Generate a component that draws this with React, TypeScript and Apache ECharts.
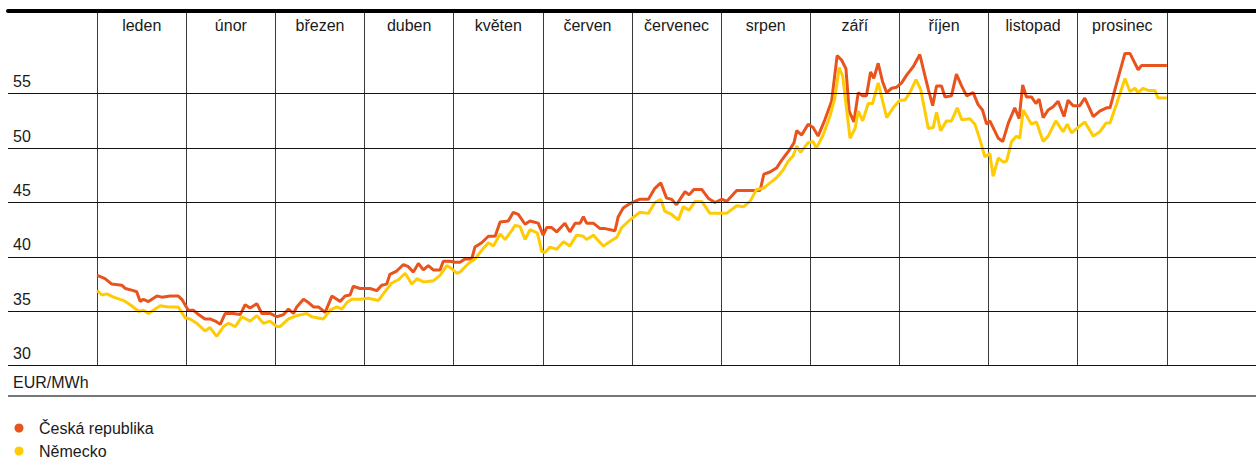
import React, { useEffect, useRef } from "react";
import * as echarts from "echarts";

const FONT = "'Liberation Sans', Arial, Helvetica, sans-serif";
const DAYS_PER_MONTH = 365 / 12;

const monthSlots = ["", "leden", "únor", "březen", "duben", "květen", "červen", "červenec", "srpen", "září", "říjen", "listopad", "prosinec", ""];
const yTicks = [30, 35, 40, 45, 50, 55];
const unitLabel = "EUR/MWh";
const seriesNames = ["Česká republika", "Německo"];

const czDays = [
  0, 2.7, 5.0, 8.4, 9.6, 12.4, 13.5, 14.7, 15.8, 17.5,
  20.4, 22.1, 24.9, 27.7, 28.9, 31.1, 32.8, 34.6, 36.8, 38.5,
  40.3, 42.0, 43.7, 46.5, 48.8, 50.5, 52.2, 54.5, 56.2, 59.0,
  61.3, 63.6, 65.3, 67.0, 68.1, 70.4, 72.1, 73.8, 75.5, 77.8,
  80.1, 81.8, 82.9, 84.6, 86.3, 87.4, 89.7, 93.1, 95.4, 97.1,
  98.8, 99.9, 102.2, 104.5, 106.2, 107.9, 109.6, 111.3, 113.0, 114.7,
  117.0, 118.1, 120.4, 122.1, 123.8, 125.5, 127.8, 128.9, 131.2, 133.5,
  135.8, 137.5, 140.3, 142.0, 143.7, 146.0, 147.7, 150.5, 152.2, 153.4,
  155.1, 156.8, 159.6, 161.3, 163.1, 164.8, 165.9, 167.0, 169.3, 171.6,
  173.3, 176.7, 177.8, 179.5, 181.8, 185.2, 188.1, 190.3, 192.3, 194.3,
  196.0, 197.7, 200.6, 202.0, 203.6, 206.3, 208.5, 210.8, 213.1, 214.8,
  218.2, 221.0, 226.2, 227.5, 229.6, 231.9, 233.6, 235.3, 236.4, 237.8,
  238.7, 240.4, 242.6, 244.3, 246.0, 248.3, 250.6, 252.5, 254.0, 255.5,
  256.6, 258.2, 259.7, 261.2, 262.5, 263.9, 265.0, 266.5, 268.0, 269.4,
  271.1, 272.8, 274.5, 276.2, 278.5, 280.7, 282.4, 283.6, 285.1, 286.4,
  288.1, 289.3, 291.5, 293.2, 295.0, 296.7, 298.9, 300.6, 302.1, 303.5,
  304.6, 307.5, 309.0, 310.9, 313.1, 314.6, 315.8, 317.1, 318.8, 320.3,
  321.4, 322.8, 324.5, 326.2, 327.9, 329.9, 331.3, 333.0, 335.3, 337.0,
  339.9, 342.1, 344.4, 345.6, 347.9, 350.7, 352.4, 355.2, 356.4, 360.3,
  365.0,
];
const czValues = [
  38.3, 38.0, 37.5, 37.4, 37.1, 36.9, 36.8, 35.9, 36.1, 35.9,
  36.4, 36.3, 36.4, 36.4, 36.1, 35.1, 35.1, 34.7, 34.3, 34.3,
  34.1, 33.8, 34.8, 34.8, 34.7, 35.6, 35.3, 35.7, 34.8, 34.8,
  34.5, 34.7, 35.2, 34.8, 35.4, 36.1, 35.8, 35.4, 35.4, 34.9,
  36.4, 36.1, 35.9, 36.4, 36.5, 37.3, 37.1, 37.1, 36.9, 37.4,
  37.5, 38.4, 38.7, 39.3, 39.1, 38.6, 39.4, 38.8, 39.2, 38.8,
  38.8, 39.6, 39.6, 39.5, 39.5, 39.8, 39.8, 40.9, 41.3, 41.9,
  41.9, 43.2, 43.3, 44.1, 43.9, 43.0, 43.3, 43.1, 42.0, 42.7,
  42.7, 42.3, 43.1, 42.3, 43.1, 43.1, 43.7, 43.1, 43.1, 42.6,
  42.6, 42.4, 43.7, 44.5, 44.9, 45.3, 45.3, 46.3, 46.8, 45.4,
  45.3, 44.8, 46.0, 45.7, 46.2, 46.2, 45.4, 45.0, 45.3, 45.1,
  46.1, 46.1, 46.1, 47.6, 47.8, 48.2, 48.9, 49.5, 49.9, 50.5,
  51.6, 51.2, 52.2, 51.9, 51.1, 52.6, 54.3, 58.5, 58.1, 57.3,
  53.4, 52.4, 55.1, 54.8, 54.8, 57.0, 56.4, 57.8, 56.1, 55.1,
  55.5, 55.6, 56.0, 56.7, 57.5, 58.6, 56.7, 55.4, 53.9, 55.7,
  55.7, 54.7, 54.8, 56.8, 55.7, 54.8, 55.1, 54.0, 53.5, 52.2,
  52.5, 50.9, 50.6, 52.3, 53.7, 52.7, 55.8, 54.7, 54.7, 54.1,
  54.5, 52.8, 53.5, 53.8, 54.3, 52.9, 54.4, 53.9, 53.9, 54.6,
  52.9, 53.4, 53.7, 53.7, 56.0, 58.7, 58.7, 57.2, 57.6, 57.6,
  57.6,
];

const deDays = [
  0, 1.6, 3.3, 5.6, 7.8, 9.0, 11.3, 14.1, 15.8, 17.5,
  19.2, 21.5, 24.3, 27.7, 30.0, 31.7, 34.0, 36.8, 38.5, 40.8,
  43.1, 44.8, 47.1, 49.4, 52.2, 54.5, 56.7, 59.0, 61.3, 62.4,
  65.3, 68.1, 71.5, 73.2, 77.2, 79.5, 81.8, 83.5, 85.2, 86.9,
  89.7, 92.5, 96.0, 98.2, 100.5, 102.8, 105.1, 107.4, 109.1, 111.3,
  114.7, 117.0, 119.3, 121.0, 122.7, 123.8, 126.7, 128.9, 131.2, 133.5,
  135.2, 137.5, 139.2, 140.9, 142.6, 144.3, 146.0, 147.7, 150.2, 151.7,
  152.8, 154.5, 156.8, 159.1, 161.3, 163.6, 165.9, 167.0, 169.3, 172.7,
  176.1, 177.3, 179.0, 181.8, 185.2, 188.1, 190.3, 192.3, 193.7, 196.0,
  198.3, 200.0, 202.0, 204.0, 206.3, 209.1, 214.8, 218.2, 220.5, 222.8,
  225.0, 227.3, 229.6, 231.9, 234.1, 235.8, 237.5, 238.7, 240.0, 242.6,
  244.3, 245.4, 247.7, 250.0, 251.7, 253.2, 254.4, 256.9, 258.6, 259.7,
  261.2, 263.1, 264.6, 266.5, 269.4, 271.6, 273.9, 275.6, 277.3, 279.4,
  281.0, 283.6, 285.3, 286.4, 287.8, 289.8, 291.5, 293.5, 295.0, 297.8,
  299.5, 301.2, 302.9, 304.6, 305.7, 307.5, 309.2, 310.3, 312.0, 313.7,
  314.8, 316.0, 318.8, 320.5, 322.8, 324.5, 327.1, 329.6, 331.0, 332.5,
  334.7, 337.0, 339.9, 342.1, 344.2, 345.6, 347.9, 350.7, 352.4, 354.1,
  355.2, 356.9, 358.6, 360.9, 362.0, 365.0,
];
const deValues = [
  36.9, 36.5, 36.6, 36.3, 36.1, 36.0, 35.6, 35.0, 35.1, 34.8,
  35.1, 35.5, 35.4, 35.4, 34.4, 34.3, 33.9, 33.2, 33.5, 32.7,
  33.6, 33.9, 33.6, 34.5, 34.1, 34.6, 33.9, 34.1, 33.6, 33.6,
  34.3, 34.6, 34.8, 34.5, 34.3, 35.1, 35.4, 35.2, 35.8, 36.1,
  36.1, 36.2, 36.0, 36.8, 37.6, 37.9, 38.5, 37.5, 38.0, 37.7,
  37.8, 38.3, 39.2, 38.9, 38.5, 38.6, 39.4, 39.8, 40.6, 41.3,
  41.0, 42.1, 41.6, 42.2, 42.9, 42.8, 41.6, 42.5, 42.2, 40.5,
  40.4, 40.9, 40.7, 41.4, 41.0, 42.0, 41.9, 41.6, 42.0, 41.0,
  41.6, 41.8, 42.7, 43.4, 44.1, 44.0, 45.0, 45.3, 44.2, 43.9,
  43.4, 44.6, 44.3, 45.1, 45.1, 44.0, 44.0, 44.7, 44.6, 45.1,
  46.2, 46.3, 46.8, 47.3, 48.0, 48.8, 49.3, 50.2, 49.6, 50.5,
  50.6, 50.0, 51.2, 52.9, 54.6, 57.4, 56.6, 50.9, 51.8, 53.4,
  52.5, 54.1, 54.1, 56.0, 52.8, 53.7, 54.4, 54.4, 55.1, 56.3,
  55.4, 51.8, 51.9, 53.3, 51.6, 52.5, 52.5, 53.7, 52.6, 52.7,
  52.2, 50.8, 49.2, 49.5, 47.4, 49.1, 48.7, 48.8, 50.6, 51.1,
  50.9, 53.5, 52.2, 52.4, 50.6, 51.1, 52.5, 51.5, 52.2, 51.4,
  51.9, 52.4, 51.1, 51.5, 52.3, 52.3, 54.1, 56.4, 55.2, 55.5,
  55.1, 55.5, 55.3, 55.3, 54.6, 54.6,
];

const CZ_COLOR = "#E9531D";
const DE_COLOR = "#FFCB05";
const TEXT_COLOR = "#1a1a1a";

function toPairs(days: number[], values: number[]) {
  return days.map((d, i) => [d / DAYS_PER_MONTH, values[i]]);
}

function legendFor(name: string, top: number) {
  return {
    orient: "vertical",
    left: 9.5,
    top,
    icon: "circle",
    itemWidth: 30,
    itemHeight: 9,
    selectedMode: false,
    textStyle: { fontSize: 16, color: TEXT_COLOR, lineHeight: 16, fontFamily: FONT },
    data: [name],
  };
}

export default function App() {
  const ref = useRef<HTMLDivElement>(null);

  useEffect(() => {
    document.body.style.margin = "0";
    if (!ref.current) return;
    const chart = echarts.init(ref.current, null, { renderer: "svg" });
    const option: any = {
      animation: false,
      textStyle: { fontFamily: FONT },
      grid: { left: 8, right: 0, top: 11, bottom: 93.3, containLabel: false },
      xAxis: [
        {
          type: "value",
          min: -1,
          max: 13,
          interval: 1,
          axisLine: { show: false },
          axisTick: { show: false },
          axisLabel: { show: false },
          splitLine: {
            show: true,
            showMinLine: false,
            showMaxLine: false,
            lineStyle: { color: "#3a3a3a", width: 1 },
          },
        },
        {
          type: "category",
          position: "top",
          data: monthSlots,
          boundaryGap: true,
          axisLine: { show: true, onZero: false, lineStyle: { color: "#000", width: 4 } },
          axisTick: { show: false },
          axisLabel: { inside: true, margin: 6, fontSize: 16, color: TEXT_COLOR, interval: 0, fontFamily: FONT },
          splitLine: { show: false },
        },
      ],
      yAxis: {
        type: "value",
        min: 30,
        max: 62.6,
        axisLine: { show: false },
        axisTick: { show: false },
        axisLabel: { show: false },
        splitLine: { show: false },
      },
      legend: [legendFor(seriesNames[0], 415), legendFor(seriesNames[1], 438)],
      graphic: [
        {
          type: "text",
          left: 13,
          top: 374,
          style: { text: unitLabel, fontSize: 16, fill: TEXT_COLOR, fontFamily: FONT },
        },
        {
          type: "line",
          shape: { x1: 8, y1: 396, x2: 1256, y2: 396 },
          style: { stroke: "#777", lineWidth: 2 },
        },
      ],
      series: [
        {
          name: seriesNames[0],
          type: "line",
          xAxisIndex: 0,
          data: toPairs(czDays, czValues),
          showSymbol: false,
          symbol: "none",
          color: CZ_COLOR,
          lineStyle: { color: CZ_COLOR, width: 3 },
          emphasis: { disabled: true },
          markLine: {
            silent: true,
            symbol: ["none", "none"],
            animation: false,
            lineStyle: { type: "solid", color: "#111", width: 1 },
            emphasis: { disabled: true },
            label: {
              show: true,
              position: "insideStartTop",
              formatter: (p: any) => String(p.value),
              fontSize: 16,
              color: TEXT_COLOR,
              fontFamily: FONT,
              distance: [5, 4],
            },
            data: yTicks.map((v) => ({ yAxis: v })),
          },
          z: 2,
        },
        {
          name: seriesNames[1],
          type: "line",
          xAxisIndex: 0,
          data: toPairs(deDays, deValues),
          showSymbol: false,
          symbol: "none",
          color: DE_COLOR,
          lineStyle: { color: DE_COLOR, width: 3 },
          emphasis: { disabled: true },
          z: 3,
        },
      ],
    };
    chart.setOption(option);
    return () => chart.dispose();
  }, []);

  return <div ref={ref} style={{ width: 1256, height: 459 }} />;
}
